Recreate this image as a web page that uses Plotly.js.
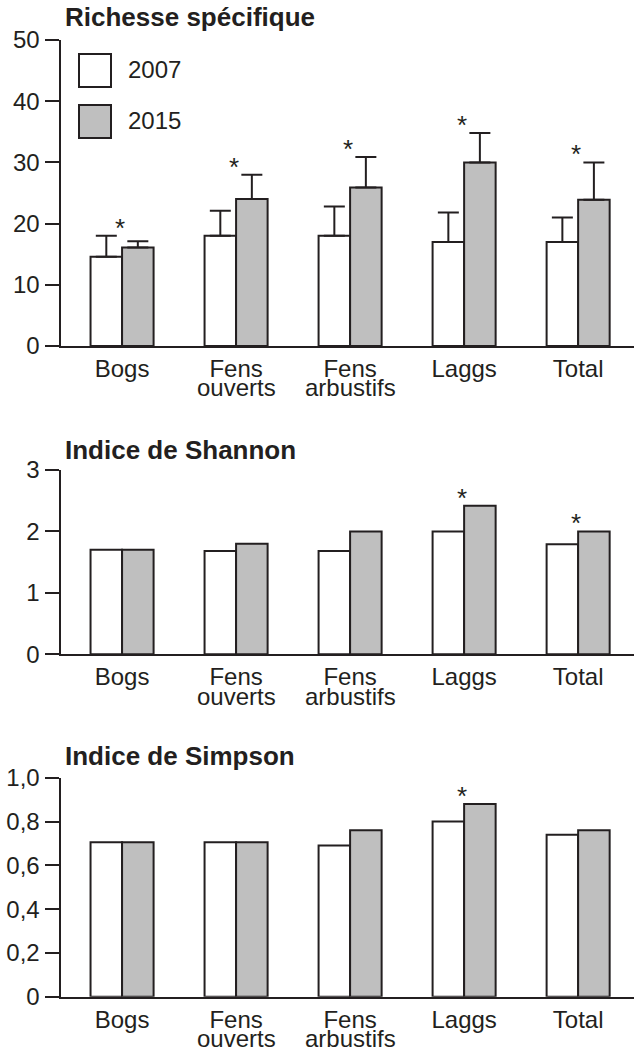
<!DOCTYPE html>
<html><head><meta charset="utf-8">
<script src="https://cdn.plot.ly/plotly-3.0.1.min.js"></script>
<style>html,body{margin:0;padding:0;background:#fff}</style>
</head><body><div id="chart" style="width:634px;height:1051px"></div>
<script>
// ---- data ----
const categories = ["Bogs", "Fens<br>ouverts", "Fens<br>arbustifs", "Laggs", "Total"];
const years = ["2007", "2015"];
const titles = ["Richesse spécifique", "Indice de Shannon", "Indice de Simpson"];

const richesse2007 = [14.6, 18.0, 18.0, 17.0, 17.0];
const richesse2015 = [16.1, 24.0, 25.9, 30.0, 23.9];
const richesseErr2007 = [3.4, 4.1, 4.8, 4.8, 4.0];
const richesseErr2015 = [1.0, 4.0, 5.0, 4.8, 6.1];
const richesseSig = [true, true, true, true, true];
const richesseTicks = [0, 10, 20, 30, 40, 50];
const richesseTickText = ["0", "10", "20", "30", "40", "50"];

const shannon2007 = [1.70, 1.68, 1.68, 2.00, 1.79];
const shannon2015 = [1.70, 1.80, 2.00, 2.42, 2.00];
const shannonSig = [false, false, false, true, true];
const shannonTicks = [0, 1, 2, 3];
const shannonTickText = ["0", "1", "2", "3"];

const simpson2007 = [0.705, 0.705, 0.69, 0.80, 0.74];
const simpson2015 = [0.705, 0.705, 0.76, 0.88, 0.76];
const simpsonSig = [false, false, false, true, false];
const simpsonTicks = [0, 0.2, 0.4, 0.6, 0.8, 1.0];
const simpsonTickText = ["0", "0,2", "0,4", "0,6", "0,8", "1,0"];

// ---- styling / layout ----
const W = 634, H = 1051;
const py = px => 1 - px / H;
const ink = '#231f20';
const grey = '#bfbfbf';
const fam = 'Liberation Sans, Arial, Helvetica, sans-serif';
const font = {family: fam, size: 24, color: ink};

const panels = [
  {v1: richesse2007, v2: richesse2015, e1: richesseErr2007, e2: richesseErr2015, sig: richesseSig,
   range: [0, 50], tv: richesseTicks, tt: richesseTickText, top: 40, bottom: 346, titleBase: 28.3},
  {v1: shannon2007, v2: shannon2015, e1: null, e2: null, sig: shannonSig,
   range: [0, 3], tv: shannonTicks, tt: shannonTickText, top: 470, bottom: 654.3, titleBase: 460.7},
  {v1: simpson2007, v2: simpson2015, e1: null, e2: null, sig: simpsonSig,
   range: [0, 1], tv: simpsonTicks, tt: simpsonTickText, top: 777.7, bottom: 996.7, titleBase: 767.3}
];

const firstLines = categories.map(c => c.split('<br>')[0]);
const data = [];
const annotations = [];
const shapes = [];
const layout = {
  width: W, height: H,
  margin: {l: 0, r: 0, t: 0, b: 0, pad: 0},
  paper_bgcolor: '#ffffff', plot_bgcolor: '#ffffff',
  showlegend: false,
  barmode: 'group', bargap: 0.447, bargroupgap: 0,
  font: font
};

panels.forEach((p, k) => {
  const s = k === 0 ? '' : String(k + 1);
  const xa = 'x' + s, ya = 'y' + s;
  layout['xaxis' + s] = {
    domain: [60.5 / W, 1], range: [-0.54, 4.49], type: 'category', anchor: ya,
    showline: true, linewidth: 2, linecolor: ink, ticks: '', showgrid: false, zeroline: false,
    tickmode: 'array', tickvals: categories, ticktext: firstLines, tickfont: font, fixedrange: true
  };
  layout['yaxis' + s] = {
    domain: [py(p.bottom), py(p.top)], range: p.range, anchor: xa,
    showline: true, linewidth: 2, linecolor: ink, ticks: 'outside', ticklen: 14, tickwidth: 2,
    tickcolor: ink, showgrid: false, zeroline: false, tickmode: 'array', tickvals: p.tv, ticktext: p.tt,
    tickfont: font, ticklabelstandoff: 0, fixedrange: true
  };
  const series = [[p.v1, p.e1, '#ffffff'], [p.v2, p.e2, grey]];
  series.forEach(([vals, err, col], j) => {
    const tr = {
      type: 'bar', x: categories, y: vals, name: years[j], xaxis: xa, yaxis: ya,
      marker: {color: col, line: {color: ink, width: 2}}, hoverinfo: 'skip'
    };
    if (err) {
      tr.error_y = {type: 'data', symmetric: false, array: err, arrayminus: err.map(() => 0),
                    color: ink, thickness: 2, width: 10.5, visible: true};
    }
    data.push(tr);
  });
  // significance asterisks
  categories.forEach((c, i) => {
    if (!p.sig[i]) return;
    const t1 = p.v1[i] + (p.e1 ? p.e1[i] : 0);
    const t2 = p.v2[i] + (p.e2 ? p.e2[i] : 0);
    annotations.push({xref: xa, yref: ya, x: c, y: Math.max(t1, t2), text: '*', showarrow: false,
      xanchor: 'center', yanchor: 'middle', yshift: 8, xshift: -2,
      font: {family: fam, size: 26, color: ink}});
  });
  // second line of two-line category labels
  categories.forEach(c => {
    const parts = c.split('<br>');
    if (parts.length < 2) return;
    annotations.push({xref: xa, yref: 'paper', x: c, y: py(p.bottom), text: parts[1], showarrow: false,
      xanchor: 'center', yanchor: 'top', yshift: -27.4, borderpad: 0, font: font});
  });
  // panel title
  annotations.push({xref: 'paper', yref: 'paper', x: 63 / W, y: py(p.titleBase + 6), text: '<b>' + titles[k] + '</b>',
    showarrow: false, xanchor: 'left', yanchor: 'bottom', font: {family: fam, size: 26, color: ink}});
});

// legend drawn as boxes + labels (top panel)
const legendBoxes = [[54, 87, '#ffffff'], [105, 138, grey]];
legendBoxes.forEach(([t, b, col], j) => {
  shapes.push({type: 'rect', xref: 'paper', yref: 'paper', x0: 79 / W, x1: 111 / W, y0: py(b), y1: py(t),
    fillcolor: col, line: {color: ink, width: 2}});
  annotations.push({xref: 'paper', yref: 'paper', x: 126 / W, y: py((t + b) / 2 - 1.5), text: years[j],
    showarrow: false, xanchor: 'left', yanchor: 'middle', font: font});
});

layout.annotations = annotations;
layout.shapes = shapes;

Plotly.newPlot('chart', data, layout, {displayModeBar: false, staticPlot: true});
</script>
</body></html>
